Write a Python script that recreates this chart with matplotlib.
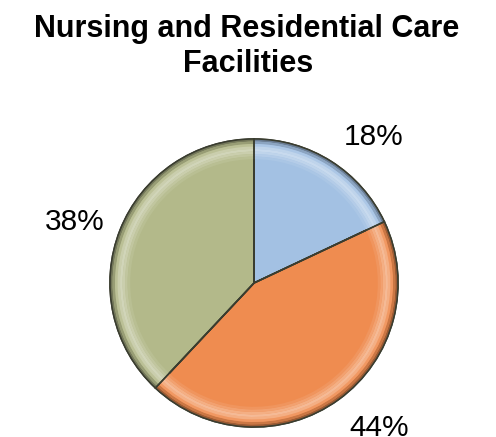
import numpy as np
import matplotlib.pyplot as plt
from matplotlib.colors import to_rgb

plt.rcParams['font.family'] = ['Liberation Sans', 'DejaVu Sans']

# data
shares = [18, 44, 38]
pie_colors = ['#A3C1E3', '#EF8C50', '#B3B98A']
title_lines = ['Nursing and Residential Care', 'Facilities']


def mix(c, other, t):
    c = np.array(to_rgb(c))
    o = np.array(to_rgb(other))
    return tuple(c * (1 - t) + o * t)


fig = plt.figure(figsize=(4.96, 4.37), dpi=100)
ax = fig.add_axes([0, 0, 1, 1])
ax.set_xlim(0, 496)
ax.set_ylim(0, 437)
ax.set_aspect('equal')
ax.axis('off')

cx, cy, R = 254, 154, 144

# base pie with percentage labels
wedges, _, autotexts = ax.pie(shares, colors=pie_colors, startangle=90, counterclock=False,
                              center=(cx, cy), radius=R, autopct='%.0f%%', pctdistance=1.32,
                              wedgeprops=dict(edgecolor='#3a3a2a', linewidth=1.2),
                              textprops=dict(fontsize=21.5, color='black'))

# labels sit a little off the wedge middles (excel "best fit")
nudge = [-6.5, 5.0, 2.5]
for w, t, d in zip(wedges, autotexts, nudge):
    ang = np.radians((w.theta1 + w.theta2) / 2 + d)
    t.set_position((cx + 1.32 * R * np.cos(ang), cy + 1.32 * R * np.sin(ang) - 9.5))
    t.set_va('baseline')

# fake bevel: thin rings going from dark rim to light band to base colour
ring_steps = [(0, 0.35, 'k'), (2.5, 0.15, 'k'), (5, 0.1, 'w'), (7.5, 0.3, 'w'), (10, 0.4, 'w'),
              (12.5, 0.3, 'w'), (15, 0.18, 'w'), (17.5, 0.08, 'w')]
for off, t, tint in ring_steps:
    cols = [mix(c, tint, t) for c in pie_colors]
    ax.pie(shares, colors=cols, startangle=90, counterclock=False, center=(cx, cy),
           radius=R - off, wedgeprops=dict(width=2.7, linewidth=0))

# dark separators on top
ax.pie(shares, colors=['none'] * 3, startangle=90, counterclock=False, center=(cx, cy),
       radius=R, wedgeprops=dict(edgecolor='#3a3d30', linewidth=1.1, fill=False))

ax.set_xlim(0, 496)
ax.set_ylim(0, 437)

fig.text(246.5 / 496, 1 - 37 / 437, title_lines[0], ha='center', va='baseline',
         fontsize=22, fontweight='bold')
fig.text(248.5 / 496, 1 - 72 / 437, title_lines[1], ha='center', va='baseline',
         fontsize=22, fontweight='bold')

fig.savefig('out.png', dpi=100)
